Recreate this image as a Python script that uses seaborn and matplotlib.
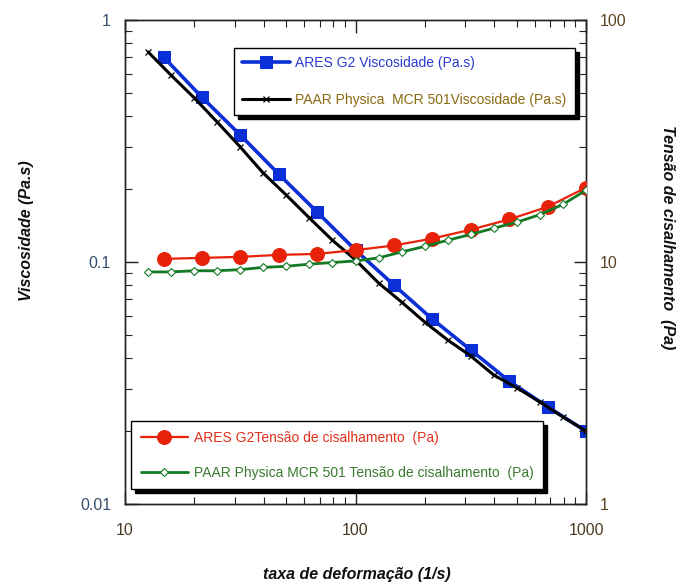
import numpy as np
import pandas as pd
import matplotlib
matplotlib.use("Agg")
import matplotlib.pyplot as plt
from matplotlib.ticker import LogLocator, NullFormatter, FixedLocator, FixedFormatter
import seaborn as sns

sns.set_theme(style="white")
plt.rcParams["font.family"] = ["Liberation Sans", "DejaVu Sans"]

# Shear rates (1/s)
rate_ares = [14.7, 21.5, 31.6, 46.4, 68.1, 100, 146.8, 215.4, 316.2, 464.2, 681.3, 1000]
rate_paar = [12.6, 15.8, 20.0, 25.1, 31.6, 39.8, 50.1, 63.1, 79.4, 100,
             125.9, 158.5, 199.5, 251.2, 316.2, 398.1, 501.2, 631.0, 794.3, 1000]

# Viscosity (Pa.s)
visc_ares = [0.703, 0.481, 0.335, 0.231, 0.161, 0.112, 0.0803, 0.0581, 0.0433, 0.0322, 0.0252, 0.0200]
visc_paar = [0.738, 0.593, 0.476, 0.379, 0.299, 0.233, 0.189, 0.152, 0.123, 0.102,
             0.0819, 0.0683, 0.0565, 0.0476, 0.0409, 0.0341, 0.0302, 0.0264, 0.0229, 0.0200]

# Shear stress (Pa)
stress_ares = [10.3, 10.4, 10.5, 10.7, 10.8, 11.2, 11.7, 12.5, 13.6, 15.0, 16.9, 20.3]
stress_paar = [9.1, 9.1, 9.2, 9.2, 9.3, 9.5, 9.6, 9.8, 9.95, 10.1,
               10.4, 11.0, 11.6, 12.3, 13.0, 13.8, 14.6, 15.7, 17.3, 19.8]

lab_visc_ares = "ARES G2 Viscosidade (Pa.s)"
lab_visc_paar = "PAAR Physica  MCR 501Viscosidade (Pa.s)"
lab_str_ares = "ARES G2Tensão de cisalhamento  (Pa)"
lab_str_paar = "PAAR Physica MCR 501 Tensão de cisalhamento  (Pa)"

fig = plt.figure(figsize=(6.79, 5.84), dpi=100)
ax = fig.add_axes([125 / 679, 1 - 504 / 584, 461 / 679, 484 / 584])
ax2 = ax.twinx()

# Viscosity curves on the left axis
sns.lineplot(x=rate_ares, y=visc_ares, ax=ax, color="#0a2fd6", lw=2.6,
             marker="s", markersize=9, markeredgecolor="#0a2fd6", label=lab_visc_ares, zorder=3)
sns.lineplot(x=rate_paar, y=visc_paar, ax=ax, color="black", lw=2.2,
             marker="x", markersize=5, markeredgewidth=0.9, markeredgecolor="black",
             label=lab_visc_paar, zorder=4)

# Shear stress curves on the right axis
sns.lineplot(x=rate_ares, y=stress_ares, ax=ax2, color="#e8220a", lw=1.6,
             marker="o", markersize=10, markeredgecolor="#e8220a", label=lab_str_ares, zorder=3)
sns.lineplot(x=rate_paar, y=stress_paar, ax=ax2, color="#137a24", lw=2.0,
             marker="D", markersize=4, markerfacecolor="white", markeredgecolor="#137a24",
             markeredgewidth=0.8, label=lab_str_paar, zorder=4)

for a in (ax, ax2):
    a.set_xscale("log")
    a.set_yscale("log")
    a.set_xlim(10, 1000)
    a.grid(False)
    for s in a.spines.values():
        s.set_color("#222222")
        s.set_linewidth(1.0)

ax.set_ylim(0.01, 1)
ax2.set_ylim(1, 100)

ax.xaxis.set_major_locator(FixedLocator([10, 100, 1000]))
ax.xaxis.set_major_formatter(FixedFormatter(["10", "100", "1000"]))
ax.xaxis.set_minor_locator(LogLocator(base=10, subs=np.arange(2, 10)))
ax.xaxis.set_minor_formatter(NullFormatter())

ax.yaxis.set_major_locator(FixedLocator([0.01, 0.1, 1]))
ax.yaxis.set_major_formatter(FixedFormatter(["0.01", "0.1", "1"]))
ax.yaxis.set_minor_locator(LogLocator(base=10, subs=np.arange(2, 10)))
ax.yaxis.set_minor_formatter(NullFormatter())

ax2.yaxis.set_major_locator(FixedLocator([1, 10, 100]))
ax2.yaxis.set_major_formatter(FixedFormatter(["1", "10", "100"]))
ax2.yaxis.set_minor_locator(LogLocator(base=10, subs=np.arange(2, 10)))
ax2.yaxis.set_minor_formatter(NullFormatter())

ax.tick_params(axis="x", which="both", direction="in", top=True, bottom=True,
               labelsize=11.5, colors="#222222", labelcolor="#4a3a22", pad=14)
ax.tick_params(axis="x", which="major", length=9, width=1)
ax.tick_params(axis="x", which="minor", length=5, width=0.8)
ax.tick_params(axis="y", which="both", direction="in", left=True, right=False,
               labelsize=11.5, colors="#222222", labelcolor="#34506e", pad=10)
ax.tick_params(axis="y", which="major", length=9, width=1)
ax.tick_params(axis="y", which="minor", length=5, width=0.8)
ax2.tick_params(axis="y", which="both", direction="in", right=True,
                labelsize=11.5, colors="#222222", labelcolor="#5a4422", pad=10)
ax2.tick_params(axis="y", which="major", length=9, width=1)
ax2.tick_params(axis="y", which="minor", length=5, width=0.8)
ax2.tick_params(axis="x", which="both", top=False, bottom=False)

ax.set_xlabel("")
ax.set_ylabel("")
ax2.set_ylabel("")

fig.text(357 / 679, 1 - 574 / 584, "taxa de deformação (1/s)", ha="center", va="center",
         fontsize=11.5, fontweight="bold", fontstyle="italic", color="#111111")
fig.text(26 / 679, 1 - 231 / 584, "Viscosidade (Pa.s)", ha="center", va="center",
         rotation=90, fontsize=11.5, fontweight="bold", fontstyle="italic", color="#111111")
fig.text(668 / 679, 1 - 237 / 584, "Tensão de cisalhamento  (Pa)", ha="center", va="center",
         rotation=-90, fontsize=11.5, fontweight="bold", fontstyle="italic", color="#111111")

shadow = {"color": "black", "alpha": 1.0, "ox": 3, "oy": -3}

leg1 = ax.legend(loc="upper left", bbox_to_anchor=(234 / 679, 1 - 48 / 584),
                 bbox_transform=fig.transFigure, fontsize=10, frameon=True,
                 fancybox=False, shadow=shadow, handlelength=3.4, labelspacing=1.6,
                 borderpad=0.6, handletextpad=0.4, borderaxespad=0,
                 labelcolor=["#2a3ad0", "#8a6a10"])
leg1.get_frame().set_edgecolor("black")
leg1.get_frame().set_linewidth(1.0)
leg1.get_frame().set_facecolor("white")
leg1.set_zorder(10)

leg2 = ax2.legend(loc="upper left", bbox_to_anchor=(131 / 679, 1 - 421 / 584),
                  bbox_transform=fig.transFigure, fontsize=10, frameon=True,
                  fancybox=False, shadow=shadow, handlelength=3.4, labelspacing=1.5,
                  borderpad=0.7, handletextpad=0.4, borderaxespad=0,
                  labelcolor=["#e0301a", "#3a7a30"])
leg2.get_frame().set_edgecolor("black")
leg2.get_frame().set_linewidth(1.0)
leg2.get_frame().set_facecolor("white")
leg2.set_zorder(10)

fig.savefig("out.png", dpi=100, facecolor="white")
